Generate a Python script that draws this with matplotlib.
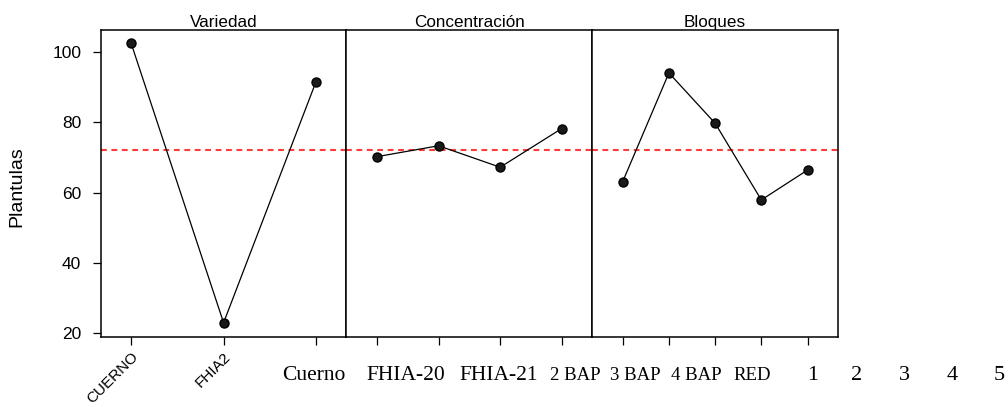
import matplotlib
matplotlib.use("Agg")
import matplotlib.pyplot as plt

# Datos: medias por factor (grafico de efectos principales)
variedad = ["CUERNO", "FHIA2", ""]
variedad_medias = [102.4, 23.0, 91.5]

concentracion = ["", "", "", ""]
concentracion_medias = [70.2, 73.3, 67.2, 78.2]

bloques = ["", "", "", "", ""]
bloques_medias = [63.1, 94.0, 79.7, 57.9, 66.4]

media_general = 72.1

titulos = ["Variedad", "Concentración", "Bloques"]
yticks = [20, 40, 60, 80, 100]

# fila de etiquetas desalineada (texto serif debajo del grafico)
etiquetas_fila = ["Cuerno", "FHIA-20", "FHIA-21", "2 BAP", "3 BAP", "4 BAP", "RED",
                  "1", "2", "3", "4", "5"]
etiquetas_x_px = [314, 406, 499, 575, 635, 696, 752, 813, 857, 904, 952, 999]
etiquetas_tam = [15.5, 15.5, 15.5, 13.5, 13.5, 13.5, 13.5, 16, 16, 16, 16, 16]

W, H = 1008, 407
plt.rcParams['font.family'] = ['Liberation Sans', 'DejaVu Sans']
fig = plt.figure(figsize=(W / 100, H / 100), dpi=100)

izq, der, arriba, abajo = 100.7, 838.0, 30.0, 337.0
ancho = (der - izq) / 3
paneles = [(variedad, variedad_medias), (concentracion, concentracion_medias),
           (bloques, bloques_medias)]

for k, (cats, medias) in enumerate(paneles):
    x0 = izq + k * ancho
    ax = fig.add_axes([x0 / W, 1 - abajo / H, ancho / W, (abajo - arriba) / H])
    xs = list(range(1, len(medias) + 1))
    ax.axhline(media_general, color="#ff3b3b", linestyle=(0, (2.8, 2.2)), linewidth=1.5, zorder=1)
    ax.plot(xs, medias, color="black", linewidth=0.9, marker="o", markersize=6.5,
            markerfacecolor="#1a1a1a", markeredgecolor="black", zorder=3)
    margen = (len(medias) - 1) * 30.5 / 185.0
    ax.set_xlim(1 - margen, len(medias) + margen)
    ax.set_ylim(18.95, 106.2)
    ax.set_xticks(xs)
    ax.set_title(titulos[k], fontsize=12.3, pad=1.5)
    for s in ax.spines.values():
        s.set_linewidth(1.1)
    ax.tick_params(axis="x", direction="out", length=5.5, width=0.9)
    if k == 0:
        ax.set_xticklabels(cats, rotation=45, ha="right", rotation_mode="anchor", fontsize=11)
        ax.set_yticks(yticks)
        ax.tick_params(axis="y", direction="out", length=6, width=0.9, pad=8, labelsize=12.5)
    else:
        ax.set_xticklabels(cats)
        ax.set_yticks([])

fig.text(17.3 / W, 1 - 187 / H, "Plantulas", rotation=90, ha="center", va="center", fontsize=14)

for etiqueta, xp, tam in zip(etiquetas_fila, etiquetas_x_px, etiquetas_tam):
    fig.text(xp / W, 1 - 380 / H, etiqueta, ha="center", va="baseline",
             fontsize=tam, family=["Liberation Serif", "DejaVu Serif"])

fig.savefig("out.png", dpi=100)
